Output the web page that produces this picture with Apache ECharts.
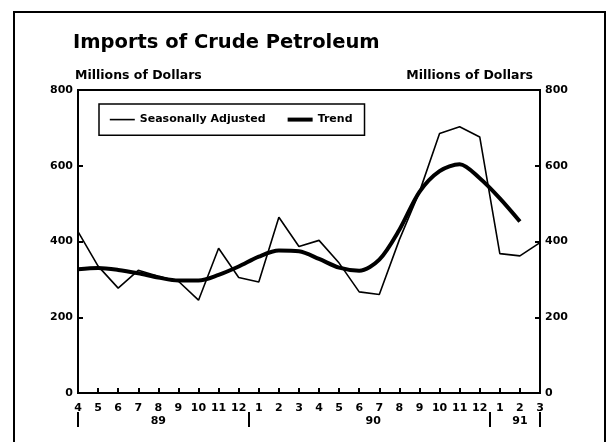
<!DOCTYPE html>
<html>
<head>
<meta charset="utf-8">
<script src="https://cdn.jsdelivr.net/npm/echarts@6/dist/echarts.min.js"></script>
<style>
html,body{margin:0;padding:0;background:#fff;}
#c{width:611px;height:442px;}
</style>
</head>
<body>
<div id="c"></div>
<script>
// Months from Apr 1989 to Mar 1991
const months = ['4','5','6','7','8','9','10','11','12','1','2','3','4','5','6','7','8','9','10','11','12','1','2','3'];
const seasonallyAdjusted = [426, 335, 277, 324, 308, 295, 245, 382, 305, 293, 464, 387, 403, 343, 267, 260, 405, 531, 685, 703, 676, 368, 362, 397];
const trend = [327, 330, 325, 316, 305, 297, 297, 312, 334, 360, 376, 374, 354, 331, 323, 352, 431, 531, 586, 604, 567, 514, 453, null];
const yTicks = [0, 200, 400, 600, 800];
const yearLabels = ['89', '90', '91'];
const yearLabelPos = [4, 14.7, 22];
const yearBreakPos = [0, 8.5, 20.5, 23];

const FONT = 'DejaVu Sans';
const chart = echarts.init(document.getElementById('c'), null, {renderer: 'canvas'});
const yAxisCommon = {
  type: 'value', gridIndex: 0, min: yTicks[0], max: yTicks[yTicks.length - 1], interval: 200,
  splitLine: {show: false},
  axisLine: {show: true, lineStyle: {color: '#000', width: 2}},
  axisTick: {show: true, inside: true, length: 5, lineStyle: {color: '#000', width: 2}},
  axisLabel: {color: '#000', fontFamily: FONT, fontWeight: 'bold', fontSize: 11, margin: 5},
  name: 'Millions of Dollars', nameLocation: 'end', nameGap: 8
};
chart.setOption({
  animation: false,
  backgroundColor: '#fff',
  title: {
    text: 'Imports of Crude Petroleum', left: 73, top: 33, padding: 0,
    textStyle: {fontFamily: FONT, fontWeight: 'bold', fontSize: 19.5, color: '#000'}
  },
  graphic: [{
    type: 'rect', shape: {x: 14, y: 12, width: 591, height: 440},
    style: {fill: 'none', stroke: '#000', lineWidth: 2}, silent: true
  }],
  legend: {
    left: 99, top: 104, padding: [10, 12, 10, 10], itemGap: 20,
    itemWidth: 25, itemHeight: 14, borderColor: '#000', borderWidth: 1.5,
    textStyle: {fontFamily: FONT, fontWeight: 'bold', fontSize: 11, color: '#000'},
    data: [
      {name: 'Seasonally Adjusted', itemStyle: {color: 'transparent', borderWidth: 0}, lineStyle: {color: '#000', width: 1.6}},
      {name: 'Trend', itemStyle: {color: 'transparent', borderWidth: 0}, lineStyle: {color: '#000', width: 4}}
    ]
  },
  grid: [
    {left: 78, right: 71, top: 90, bottom: 49, show: true, borderColor: '#000', borderWidth: 2,
     containLabel: false, outerBoundsMode: 'none'},
    {left: 78, right: 71, top: 411, height: 1, show: false, containLabel: false, outerBoundsMode: 'none'}
  ],
  xAxis: [{
    type: 'category', gridIndex: 0, data: months, boundaryGap: false,
    axisLine: {lineStyle: {color: '#000', width: 2}},
    axisTick: {inside: true, length: 5, interval: 0, lineStyle: {color: '#000', width: 2}},
    axisLabel: {interval: 0, color: '#000', fontFamily: FONT, fontWeight: 'bold', fontSize: 11, margin: 10},
    splitLine: {show: false}
  }, {
    // year separators and year labels
    type: 'value', gridIndex: 1, min: 0, max: months.length - 1, position: 'bottom',
    axisLine: {show: false},
    splitLine: {show: false},
    axisTick: {show: true, inside: false, customValues: yearBreakPos, length: 15, lineStyle: {color: '#000', width: 2}},
    axisLabel: {
      customValues: yearLabelPos, margin: 4, color: '#000', fontFamily: FONT, fontWeight: 'bold', fontSize: 11,
      formatter: function (v) { const i = yearLabelPos.indexOf(v); return i >= 0 ? yearLabels[i] : ''; }
    }
  }],
  yAxis: [
    Object.assign({}, yAxisCommon, {
      position: 'left',
      nameTextStyle: {align: 'left', padding: [0, 0, 0, -3], color: '#000', fontFamily: FONT, fontWeight: 'bold', fontSize: 12.5}
    }),
    Object.assign({}, yAxisCommon, {
      position: 'right',
      nameTextStyle: {align: 'right', padding: [0, 7, 0, 0], color: '#000', fontFamily: FONT, fontWeight: 'bold', fontSize: 12.5}
    }),
    {type: 'value', gridIndex: 1, show: false, min: 0, max: 1}
  ],
  series: [{
    name: 'Seasonally Adjusted', type: 'line', data: seasonallyAdjusted, xAxisIndex: 0, yAxisIndex: 0,
    symbol: 'none', lineStyle: {color: '#000', width: 1.6}, itemStyle: {color: '#000'}
  }, {
    name: 'Trend', type: 'line', data: trend, smooth: 0.3, xAxisIndex: 0, yAxisIndex: 0,
    symbol: 'none', lineStyle: {color: '#000', width: 4}, itemStyle: {color: '#000'}
  }]
});
</script>
</body>
</html>
